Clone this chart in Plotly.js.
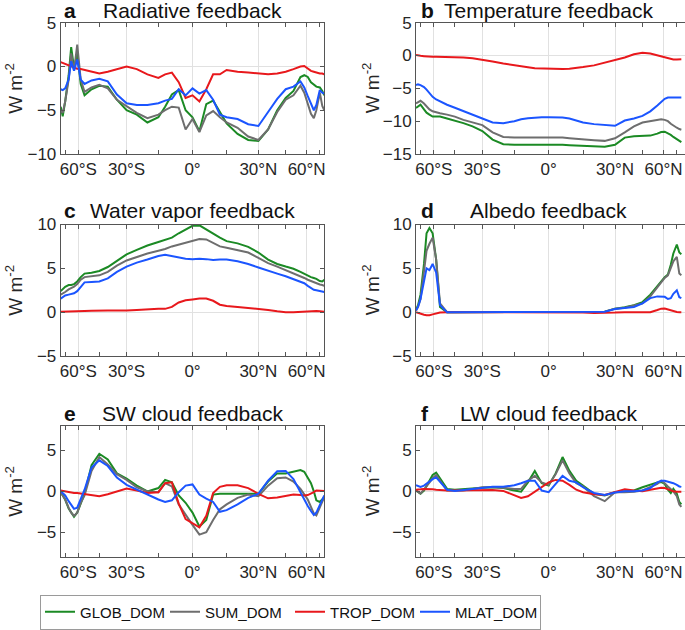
<!DOCTYPE html>
<html><head><meta charset="utf-8">
<script src="https://cdn.plot.ly/plotly-3.0.1.min.js"></script>
<style>html,body{margin:0;padding:0;background:#fff}#chart{width:685px;height:630px}</style>
</head><body><div id="chart"></div>
<script>
// latitude grid (degrees)
const lat = [-90,-80,-75,-70,-67,-64,-61,-58,-55,-50,-45,-40,-35,-30,-25,-20,-15,-12,-9,-6,-3,0,3,6,9,12,15,20,25,30,35,40,45,50,55,58,61,64,67,70,75,80,90];

// a Radiative feedback
const radGlob = [-4.6,-5.7,-4.0,-1.0,2.2,-0.2,1.5,-2.0,-3.3,-2.6,-2.2,-2.3,-3.8,-5.0,-5.5,-6.4,-5.8,-4.6,-3.2,-2.7,-5.0,-5.8,-7.4,-4.3,-3.9,-5.2,-6.5,-7.7,-8.4,-8.5,-7.2,-5.0,-3.6,-2.8,-1.2,-1.0,-1.2,-1.8,-2.1,-2.3,-2.4,-2.8,-3.3];
const radSum  = [-5.0,-5.3,-4.0,-1.5,1.5,-0.5,2.5,-1.5,-2.9,-2.4,-2.1,-2.5,-3.8,-4.5,-5.3,-5.9,-5.5,-5.0,-4.6,-4.7,-7.2,-6.0,-7.5,-5.6,-5.1,-5.8,-6.4,-7.0,-8.0,-8.4,-7.2,-5.2,-3.8,-3.3,-2.2,-3.0,-4.2,-5.4,-5.9,-5.0,-3.0,-4.5,-5.0];
const radTrop = [0.5,0.4,0.3,0.1,0.0,-0.1,-0.25,-0.3,-0.4,-0.6,-0.8,-0.6,-0.3,0.0,-0.3,-0.9,-1.3,-0.9,-0.7,-1.8,-3.6,-3.3,-4.0,-2.6,-0.9,-0.9,-0.4,-0.6,-0.7,-0.8,-0.9,-0.8,-0.6,-0.3,0.0,0.05,-0.2,-0.5,-0.6,-0.7,-0.8,-0.8,-0.9];
const radMlat = [-2.6,-2.7,-2.5,-1.5,0.6,-0.5,0.8,-1.5,-2.0,-1.6,-1.4,-1.7,-3.2,-4.2,-4.4,-4.4,-4.2,-3.9,-3.7,-2.6,-3.3,-2.5,-3.1,-2.7,-3.8,-5.5,-5.8,-6.0,-6.6,-6.8,-5.2,-3.7,-2.6,-2.3,-1.7,-2.4,-3.4,-4.3,-5.0,-4.4,-2.7,-3.0,-3.1];

// b Temperature feedback
const tempGlob = [-8.0,-7.8,-7.5,-8.2,-8.7,-9.0,-9.3,-9.3,-9.3,-9.6,-9.9,-10.3,-10.8,-11.5,-12.8,-13.5,-13.6,-13.6,-13.55,-13.5,-13.5,-13.5,-13.55,-13.6,-13.65,-13.7,-13.8,-13.9,-13.9,-13.6,-12.5,-12.3,-12.3,-12.2,-11.9,-11.65,-11.6,-11.8,-12.1,-12.4,-12.8,-13.05,-13.2];
const tempSum  = [-7.3,-7.1,-6.9,-7.3,-7.8,-8.2,-8.5,-8.7,-8.8,-9.0,-9.3,-9.8,-10.2,-10.6,-11.7,-12.4,-12.5,-12.5,-12.45,-12.4,-12.4,-12.4,-12.45,-12.5,-12.6,-12.7,-12.8,-12.9,-13.0,-12.6,-11.7,-10.8,-10.2,-10.0,-9.8,-9.7,-9.8,-10.0,-10.4,-10.7,-11.0,-11.2,-11.3];
const tempTrop = [0.1,0.0,-0.05,-0.1,-0.15,-0.2,-0.2,-0.2,-0.2,-0.2,-0.25,-0.3,-0.4,-0.7,-0.9,-1.2,-1.5,-1.7,-1.8,-1.95,-2.0,-2.05,-2.05,-2.05,-2.0,-1.9,-1.75,-1.5,-1.1,-0.7,-0.3,0.2,0.42,0.3,0.0,-0.15,-0.25,-0.4,-0.5,-0.6,-0.62,-0.6,-0.58];
const tempMlat = [-4.5,-4.4,-4.5,-4.8,-5.2,-5.8,-6.3,-6.7,-7.0,-7.5,-7.95,-8.5,-9.0,-9.6,-10.2,-10.3,-10.0,-9.7,-9.55,-9.45,-9.4,-9.4,-9.4,-9.45,-9.6,-9.9,-10.2,-10.45,-10.6,-10.7,-9.9,-9.6,-9.2,-8.5,-7.6,-7.0,-6.6,-6.4,-6.4,-6.4,-6.4,-6.4,-6.4];

// c Water vapor feedback
const wvGlob = [2.4,2.6,2.9,3.1,3.1,3.2,3.5,4.0,4.4,4.5,4.7,5.15,5.9,6.6,7.1,7.6,8.0,8.25,8.5,9.0,9.4,9.85,9.9,9.4,8.9,8.5,8.1,7.85,7.45,6.8,6.0,5.5,5.2,4.95,4.6,4.35,4.2,4.0,3.9,3.8,3.55,3.5,3.7];
const wvSum  = [2.0,2.1,2.3,2.6,2.7,2.9,3.2,3.7,4.0,4.1,4.2,4.6,5.3,5.9,6.3,6.7,7.0,7.2,7.5,7.7,7.9,8.1,8.35,8.3,7.9,7.5,7.35,7.1,6.8,6.2,5.6,5.2,4.8,4.5,4.1,3.9,3.7,3.55,3.4,3.3,3.15,3.1,3.0];
const wvTrop = [0.05,0.05,0.08,0.1,0.1,0.12,0.12,0.12,0.13,0.15,0.2,0.2,0.2,0.18,0.25,0.35,0.4,0.38,0.6,1.1,1.35,1.45,1.55,1.55,1.3,0.85,0.7,0.6,0.5,0.4,0.25,0.1,0.0,0.0,0.05,0.08,0.1,0.12,0.12,0.12,0.1,0.08,0.05];
const wvMlat = [1.55,1.7,1.9,2.0,2.1,2.15,2.4,2.9,3.4,3.45,3.5,3.85,4.6,5.2,5.65,6.0,6.4,6.55,6.4,6.25,6.1,6.05,6.1,6.05,5.95,6.0,6.0,5.8,5.5,5.1,4.7,4.4,4.1,3.8,3.5,3.3,3.0,2.8,2.55,2.5,2.4,2.35,2.3];

// d Albedo feedback
const albGlob = [0.3,0.8,2.0,5.5,9.0,9.6,9.0,6.0,0.6,0.0,0.0,0.0,0.0,0.0,0.0,0.0,0.0,0.0,0.0,0.0,0.0,0.0,0.0,0.0,0.0,0.0,0.0,0.0,0.05,0.4,0.55,0.8,1.15,2.0,3.0,3.5,4.0,4.3,5.4,6.7,7.7,6.8,6.6];
const albSum  = [0.2,0.6,1.5,4.5,7.0,7.8,8.5,6.0,1.0,0.0,0.0,0.0,0.0,0.0,0.0,0.0,0.0,0.0,0.0,0.0,0.0,0.0,0.0,0.0,0.0,0.0,0.0,0.0,0.05,0.4,0.5,0.75,1.0,1.8,2.8,3.4,3.9,4.2,5.0,5.8,6.3,4.4,4.2];
const albTrop = [0.0,-0.1,-0.2,-0.3,-0.35,-0.35,-0.25,-0.15,-0.05,0.0,0.0,-0.02,-0.05,-0.05,-0.05,-0.03,0.0,0.0,0.0,0.0,0.0,0.0,0.0,0.0,0.0,-0.03,-0.05,-0.1,-0.1,-0.05,0.0,0.0,-0.05,0.0,0.25,0.4,0.42,0.3,0.2,0.1,0.03,0.0,0.0];
const albMlat = [0.2,0.6,1.5,3.5,5.0,4.8,5.5,4.5,0.8,0.0,0.0,0.0,0.0,0.0,0.0,0.0,0.0,0.0,0.0,0.0,0.0,0.0,0.0,0.0,0.0,0.0,0.0,0.0,0.05,0.35,0.45,0.6,1.0,1.6,1.8,1.75,1.75,1.5,1.6,2.1,2.5,1.7,1.6];

// e SW cloud feedback
const swGlob = [-0.1,-0.5,-1.0,-2.1,-2.6,-3.1,-2.6,-1.5,-0.3,3.2,4.6,3.9,2.2,1.55,0.7,0.0,0.4,1.4,1.1,-0.5,-1.4,-2.6,-4.3,-3.5,-0.4,-0.3,-0.3,-0.3,-0.25,-0.3,1.2,2.2,2.2,2.45,2.6,2.4,1.7,1.0,0.0,-1.1,-1.3,-0.9,-0.7];
const swSum  = [-0.1,-0.5,-1.0,-2.0,-2.6,-3.0,-2.6,-1.4,-0.5,2.5,4.2,3.3,2.1,1.4,0.5,0.0,-0.1,1.0,0.6,-1.6,-2.9,-4.1,-5.3,-5.0,-3.5,-2.2,-1.6,-0.8,-0.4,-0.6,0.7,1.6,1.7,1.2,0.3,-0.3,-1.0,-1.9,-2.7,-2.95,-2.0,-1.3,-0.7];
const swTrop = [0.1,0.05,0.0,-0.1,-0.15,-0.2,-0.2,-0.25,-0.3,-0.45,-0.6,-0.35,0.0,0.35,0.1,-0.2,-0.1,1.0,1.1,-1.5,-3.4,-3.9,-4.4,-3.0,-0.2,0.55,0.75,0.75,0.4,-0.3,-0.85,-0.75,-0.55,-0.4,-0.45,-0.5,-0.45,-0.3,-0.1,0.1,0.1,0.05,0.05];
const swMlat = [0.0,-0.2,-0.5,-1.2,-1.7,-2.15,-2.0,-1.0,0.2,2.9,3.8,3.1,1.7,0.8,0.2,-0.4,-1.0,-1.3,-1.1,-0.1,0.7,0.85,-0.4,-0.9,-1.3,-2.5,-2.3,-1.6,-0.8,-0.3,1.3,2.45,2.5,1.5,-0.2,-1.0,-1.8,-2.4,-2.9,-2.6,-1.7,-0.9,-0.5];

// f LW cloud feedback
const lwGlob = [0.1,-0.1,-0.3,0.1,0.6,1.3,2.0,2.3,1.6,0.3,0.2,0.3,0.35,0.45,0.5,0.4,0.1,-0.05,1.1,2.5,1.0,0.7,2.2,4.2,2.5,1.3,0.7,-0.3,-0.5,-0.1,0.0,0.1,0.5,0.8,1.1,1.15,0.9,0.2,-0.2,0.3,-0.3,-1.3,-1.6];
const lwSum  = [0.1,-0.1,-0.25,0.2,0.6,1.0,1.6,2.0,1.3,0.1,0.1,0.1,0.3,0.5,0.5,0.45,0.3,0.3,1.3,1.9,1.1,0.8,2.1,3.8,2.2,1.0,0.6,-0.6,-1.2,-0.1,-0.1,-0.05,0.1,0.5,0.9,1.3,1.0,0.6,0.3,0.0,-0.6,-1.6,-1.9];
const lwTrop = [0.2,0.2,0.25,0.3,0.3,0.3,0.25,0.2,0.15,0.1,0.1,0.1,0.1,0.1,0.15,0.05,-0.45,-0.8,-0.6,0.0,0.6,1.1,1.4,1.3,0.8,0.2,-0.1,-0.35,-0.45,-0.1,0.25,0.1,0.0,0.2,0.35,0.45,0.4,0.25,0.1,0.0,-0.05,-0.05,-0.05];
const lwMlat = [0.75,0.65,0.55,0.7,0.95,1.2,1.5,1.7,1.2,0.2,0.05,0.15,0.3,0.45,0.55,0.55,0.75,1.0,1.3,1.3,0.1,-0.1,0.9,1.9,1.3,1.1,0.5,-0.2,-0.45,-0.15,0.0,0.0,0.1,0.4,1.1,1.3,1.3,1.2,1.1,1.0,0.8,0.6,0.55];

const seriesNames  = ['GLOB_DOM','SUM_DOM','TROP_DOM','MLAT_DOM'];
const seriesColors = ['#1b8a24','#6e6e6e','#e8181c','#1b55ff'];
const panelLetters = ['a','b','c','d','e','f'];
const panelTitles  = ['Radiative feedback','Temperature feedback','Water vapor feedback','Albedo feedback','SW cloud feedback','LW cloud feedback'];
const panelSeries  = [
  [radGlob,radSum,radTrop,radMlat],
  [tempGlob,tempSum,tempTrop,tempMlat],
  [wvGlob,wvSum,wvTrop,wvMlat],
  [albGlob,albSum,albTrop,albMlat],
  [swGlob,swSum,swTrop,swMlat],
  [lwGlob,lwSum,lwTrop,lwMlat]
];
const yRanges = [[-10,5],[-15,5],[-5,10],[-5,10],[-8,8],[-8,8]];
const yTicks  = [[-10,-5,0,5],[-15,-10,-5,0,5],[-5,0,5,10],[-5,0,5,10],[-5,0,5],[-5,0,5]];
const latTickVals = [-60,-30,0,30,60];
const latTickText = ['60°S','30°S','0°','30°N','60°N'];
const latMinorVals = [-75,-45,-15,15,45,75];

// ---------- layout geometry (pixels) ----------
const W = 685, H = 630;
const FONT = 'Liberation Sans, Arial, Helvetica, sans-serif';
const colX = [[60.7,324.3],[416,685]];
const rowY = [[22.7,154],[224.5,356],[426,556.7]];
const titleY = [10.5,210.5,413.5];
const sinDeg = d => Math.sin(d*Math.PI/180);
const xs = lat.map(sinDeg);

const traces = [];
const layout = {
  width: W, height: H,
  margin: {l:0,r:0,t:0,b:0},
  paper_bgcolor: '#fff', plot_bgcolor: '#fff',
  font: {family: FONT, color: '#262626'},
  showlegend: true,
  legend: {
    orientation: 'h', x: 40/W, xanchor: 'left', y: 1-629.5/H, yanchor: 'bottom',
    bordercolor: '#9a9a9a', borderwidth: 1, bgcolor: '#fff',
    font: {family: FONT, size: 15, color: '#111'},
    entrywidth: 80, entrywidthmode: 'pixels', itemwidth: 30,
    tracegroupgap: 0
  },
  annotations: []
};

const axColor = '#555';
for (let p = 0; p < 6; p++) {
  const col = p % 2, row = Math.floor(p/2);
  const sfx = p === 0 ? '' : String(p+1);
  const xa = 'xaxis' + sfx, ya = 'yaxis' + sfx;
  const xr = col === 0 ? [-1, 1] : [-1, (colX[1][1] - 548.67)/132.67];
  layout[xa] = {
    domain: [colX[col][0]/W, colX[col][1]/W],
    anchor: 'y' + sfx, range: xr, fixedrange: true,
    tickmode: 'array', tickvals: latTickVals.map(sinDeg), ticktext: latTickText,
    ticks: 'inside', ticklen: 4, tickwidth: 1, tickcolor: axColor,
    showline: true, linecolor: axColor, linewidth: 1, mirror: 'ticks',
    showgrid: true, gridcolor: '#e1e1e1', gridwidth: 1, zeroline: false,
    tickfont: {family: FONT, size: 17, color: '#262626'},
    minor: {tickmode: 'array', tickvals: latMinorVals.map(sinDeg), ticks: 'inside', ticklen: 4, tickcolor: axColor, showgrid: false}
  };
  layout[ya] = {
    domain: [1 - rowY[row][1]/H, 1 - rowY[row][0]/H],
    anchor: 'x' + sfx, range: yRanges[p], fixedrange: true,
    tickmode: 'array', tickvals: yTicks[p],
    ticks: 'inside', ticklen: 4, tickwidth: 1, tickcolor: axColor,
    showline: true, linecolor: axColor, linewidth: 1, mirror: col === 0 ? 'ticks' : false,
    showgrid: false, zeroline: true, zerolinecolor: '#e1e1e1', zerolinewidth: 1,
    tickfont: {family: FONT, size: 17, color: '#262626'}
  };
  panelSeries[p].forEach((vals, s) => {
    traces.push({
      type: 'scatter', mode: 'lines', x: xs, y: vals,
      xaxis: 'x' + sfx, yaxis: 'y' + sfx,
      name: seriesNames[s], legendgroup: seriesNames[s], showlegend: p === 0,
      line: {color: seriesColors[s], width: 2}, hoverinfo: 'skip'
    });
  });
  const cx = col === 0 ? (colX[0][0]+colX[0][1])/2 : 548.67;
  layout.annotations.push({
    xref: 'paper', yref: 'paper', x: cx/W, y: 1 - titleY[row]/H,
    xanchor: 'center', yanchor: 'middle', showarrow: false,
    text: panelTitles[p], font: {family: FONT, size: 21, color: '#111'}
  });
  layout.annotations.push({
    xref: 'paper', yref: 'paper', x: (col === 0 ? 62 : 418.5)/W, y: 1 - titleY[row]/H,
    xanchor: 'left', yanchor: 'middle', showarrow: false,
    text: '<b>' + panelLetters[p] + '</b>', font: {family: FONT, size: 21, color: '#111'}
  });
  const ycen = (rowY[row][0] + rowY[row][1])/2;
  layout.annotations.push({
    xref: 'paper', yref: 'paper', x: (col === 0 ? 14.5 : 371)/W, y: 1 - ycen/H,
    xanchor: 'center', yanchor: 'middle', showarrow: false, textangle: -90,
    text: 'W m<sup>-2</sup>', font: {family: FONT, size: 19, color: '#262626'}
  });
}

Plotly.newPlot('chart', traces, layout, {staticPlot: true, displayModeBar: false});
</script></body></html>
